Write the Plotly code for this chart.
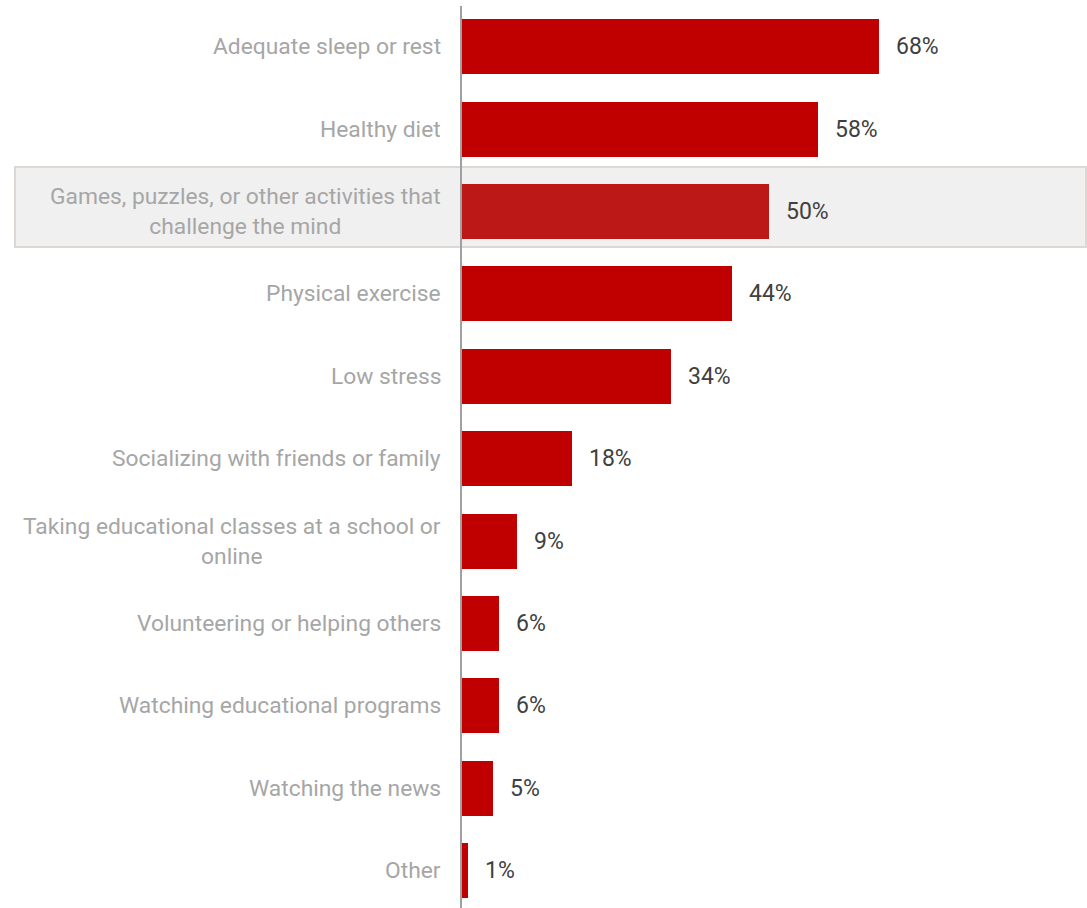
import plotly.graph_objects as go

# Survey responses: what people do to keep their mind sharp
categories = [
    "Adequate sleep or rest",
    "Healthy diet",
    "Games, puzzles, or other activities that<br>challenge the mind",
    "Physical exercise",
    "Low stress",
    "Socializing with friends or family",
    "Taking educational classes at a school or<br>online",
    "Volunteering or helping others",
    "Watching educational programs",
    "Watching the news",
    "Other",
]
values = [68, 58, 50, 44, 34, 18, 9, 6, 6, 5, 1]
value_labels = ["68%", "58%", "50%", "44%", "34%", "18%", "9%", "6%", "6%", "5%", "1%"]
highlight = "Games, puzzles, or other activities that<br>challenge the mind"

FONT = "Roboto"
RED = "#C00000"
RED_HL = "#BC1818"

bar_colors = [RED_HL if c == highlight else RED for c in categories]

fig = go.Figure()
fig.add_trace(go.Bar(
    x=values,
    y=categories,
    orientation="h",
    marker=dict(color=bar_colors, line=dict(width=0)),
    width=0.6675,
    hoverinfo="skip",
))

annotations = []
for cat, val, lab in zip(categories, values, value_labels):
    # category label left of the axis, wrapped lines centred
    annotations.append(dict(
        x=0, xref="paper", y=cat, yref="y",
        text=cat, showarrow=False, xanchor="right", yanchor="middle",
        xshift=-19, align="center",
        font=dict(family=FONT, size=22.8, color="#A6A6A6"),
    ))
    # value label at the bar end
    annotations.append(dict(
        x=val, xref="x", y=cat, yref="y",
        text=lab, showarrow=False, xanchor="left", yanchor="middle",
        xshift=15,
        font=dict(family=FONT, size=23, color="#404040"),
    ))

fig.update_layout(
    width=1087, height=908,
    margin=dict(l=462, r=0, t=6, b=0),
    paper_bgcolor="white", plot_bgcolor="rgba(0,0,0,0)",
    showlegend=False,
    bargap=0,
    xaxis=dict(range=[0, 101.9], visible=False, fixedrange=True),
    yaxis=dict(
        type="category",
        categoryorder="array", categoryarray=categories,
        range=[10.453, -0.495],
        showticklabels=False, ticks="",
        showgrid=False, zeroline=False,
        showline=True, linecolor="#A0A0A0", linewidth=2,
        fixedrange=True,
    ),
    annotations=annotations,
    shapes=[dict(
        type="rect", layer="below",
        xref="paper", yref="paper",
        x0=-0.7152, x1=0.9984, y0=0.7328, y1=0.8215,
        fillcolor="#F0F0F0", line=dict(color="#DDD8D4", width=2),
    )],
)

fig.write_html("out.html")
